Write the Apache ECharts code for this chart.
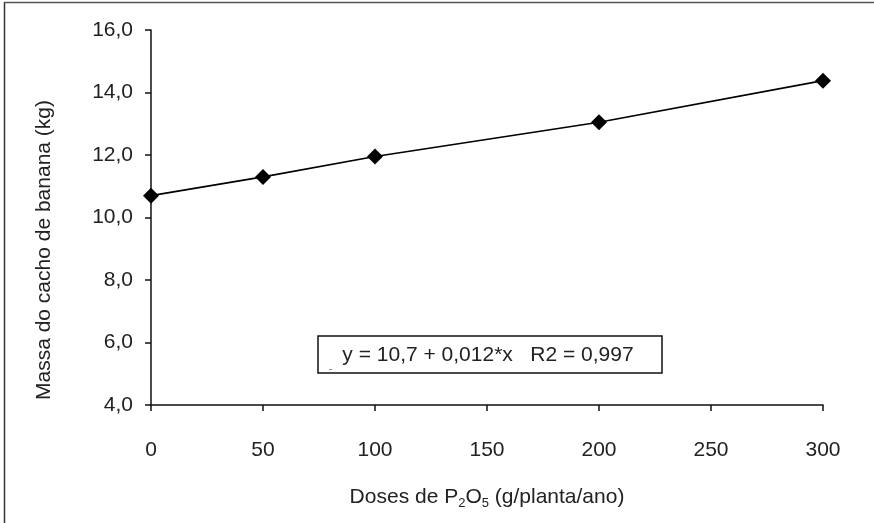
<!DOCTYPE html>
<html>
<head>
<meta charset="utf-8">
<script src="https://cdn.jsdelivr.net/npm/echarts@6/dist/echarts.min.js"></script>
<style>
  html, body { margin: 0; padding: 0; background: #fff; }
  #chart { width: 874px; height: 523px; }
</style>
</head>
<body>
<div id="chart"></div>
<script>
  // doses de P2O5 e massa do cacho
  var doses = [0, 50, 100, 200, 300];
  var massa = [10.7, 11.3, 11.95, 13.05, 14.38];
  var yTicks = [4, 6, 8, 10, 12, 14, 16];
  var xTicks = [0, 50, 100, 150, 200, 250, 300];
  var equacao = 'y = 10,7 + 0,012*x   R2 = 0,997';
  var tituloY = 'Massa do cacho de banana (kg)';

  var fonte = 'Liberation Sans, Arial, sans-serif';
  var corTexto = '#222';
  var tam = 21;

  var myChart = echarts.init(document.getElementById('chart'));
  myChart.setOption({
    animation: false,
    grid: {
      left: 151,
      right: 51,
      top: 30,
      bottom: 118
    },
    xAxis: {
      type: 'value',
      min: xTicks[0],
      max: xTicks[xTicks.length - 1],
      interval: 50,
      name: '{n|Doses de P}{sub|2}{n|O}{sub|5}{n| (g/planta/ano)}',
      nameLocation: 'middle',
      nameGap: 80,
      nameTextStyle: {
        color: corTexto,
        fontSize: tam,
        fontFamily: fonte,
        rich: {
          n: { fontSize: tam, fontFamily: fonte, color: corTexto },
          sub: { fontSize: 13, fontFamily: fonte, color: corTexto, verticalAlign: 'bottom', padding: [12, 0, 0, 0] }
        }
      },
      axisLine: { show: true, lineStyle: { color: '#111', width: 1.5 } },
      axisTick: { show: true, inside: false, length: 6, lineStyle: { color: '#111', width: 1.5 } },
      axisLabel: {
        color: corTexto,
        fontSize: tam,
        fontFamily: fonte,
        margin: 35,
        formatter: function (v) { return String(v); }
      },
      splitLine: { show: false }
    },
    yAxis: {
      type: 'value',
      min: yTicks[0],
      max: yTicks[yTicks.length - 1],
      interval: 2,
      axisLine: { show: true, lineStyle: { color: '#111', width: 1.5 } },
      axisTick: { show: true, inside: false, length: 6, lineStyle: { color: '#111', width: 1.5 } },
      axisLabel: {
        color: corTexto,
        fontSize: tam,
        fontFamily: fonte,
        margin: 18,
        formatter: function (v) { return v.toFixed(1).replace('.', ','); }
      },
      splitLine: { show: false }
    },
    graphic: [
      { type: 'line', shape: { x1: 4.5, y1: 2, x2: 4.5, y2: 523 }, style: { stroke: '#333', lineWidth: 1.5 } },
      { type: 'line', shape: { x1: 4, y1: 2.5, x2: 874, y2: 2.5 }, style: { stroke: '#555', lineWidth: 1.5 } },
      {
        type: 'text',
        x: 44, y: 250,
        rotation: Math.PI / 2,
        style: {
          text: tituloY,
          fill: corTexto,
          fontSize: tam,
          fontFamily: fonte,
          align: 'center',
          verticalAlign: 'middle'
        }
      },
      {
        type: 'rect',
        shape: { x: 318, y: 336, width: 344, height: 37 },
        style: { fill: '#fff', stroke: '#111', lineWidth: 1.5 },
        z: 10
      },
      { type: 'line', shape: { x1: 329, y1: 369.5, x2: 332, y2: 369.5 }, style: { stroke: '#888', lineWidth: 1 }, z: 11 },
      {
        type: 'text',
        x: 488, y: 355,
        style: {
          text: equacao,
          fill: corTexto,
          fontSize: tam,
          fontFamily: fonte,
          align: 'center',
          verticalAlign: 'middle'
        },
        z: 11
      }
    ],
    series: [{
      type: 'line',
      data: doses.map(function (d, i) { return [d, massa[i]]; }),
      symbol: 'diamond',
      symbolSize: 16,
      lineStyle: { color: '#000', width: 1.6 },
      itemStyle: { color: '#000' }
    }]
  });
</script>
</body>
</html>
